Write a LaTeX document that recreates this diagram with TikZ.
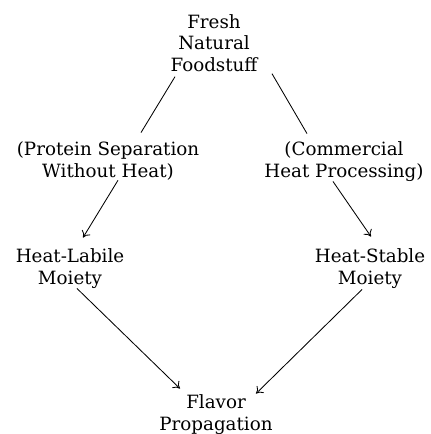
\documentclass[tikz,border=0pt]{standalone}
\usepackage{fontspec}
\setmainfont{DejaVu Serif}
\usetikzlibrary{calc,arrows.meta}

\begin{document}
\begin{tikzpicture}[
      x=0.025cm, y=-0.025cm,
      >={To[length=4.5pt,width=7pt]},
      line width=0.6pt,
      every node/.style={inner sep=0pt,align=center,anchor=base,
        font=\fontsize{13pt}{15pt}\selectfont}
    ]
      \useasboundingbox (0,0) rectangle (430,434);

      \node (food)   at (214,71)  {Fresh\\Natural\\Foodstuff};
      \node (sep)    at (108,177) {(Protein Separation\\Without Heat)};
      \node (comm)   at (344,177) {(Commercial\\Heat Processing)};
      \node (labile) at (70,284)  {Heat-Labile\\Moiety};
      \node (stable) at (370,284) {Heat-Stable\\Moiety};
      \node (flavor) at (216,430) {Flavor\\Propagation};

      \draw ($(food.south)+(-39,5)$) -- ($(sep.north)+(33,-9)$);
      \draw ($(food.south)+(58,2)$) -- ($(comm.north)+(-37,-8)$);
      \draw[->] ($(sep.south)+(10,0)$) -- ($(labile.north)+(13,-11)$);
      \draw[->] ($(comm.south)+(-11,0)$) -- ($(stable.north)+(1,-12)$);
      \draw[->] ($(labile.south)+(7,0)$) -- ($(flavor.north)+(-36,-6)$);
      \draw[->] ($(stable.south)+(-8,1)$) -- ($(flavor.north)+(40,-1)$);
\end{tikzpicture}
\end{document}
